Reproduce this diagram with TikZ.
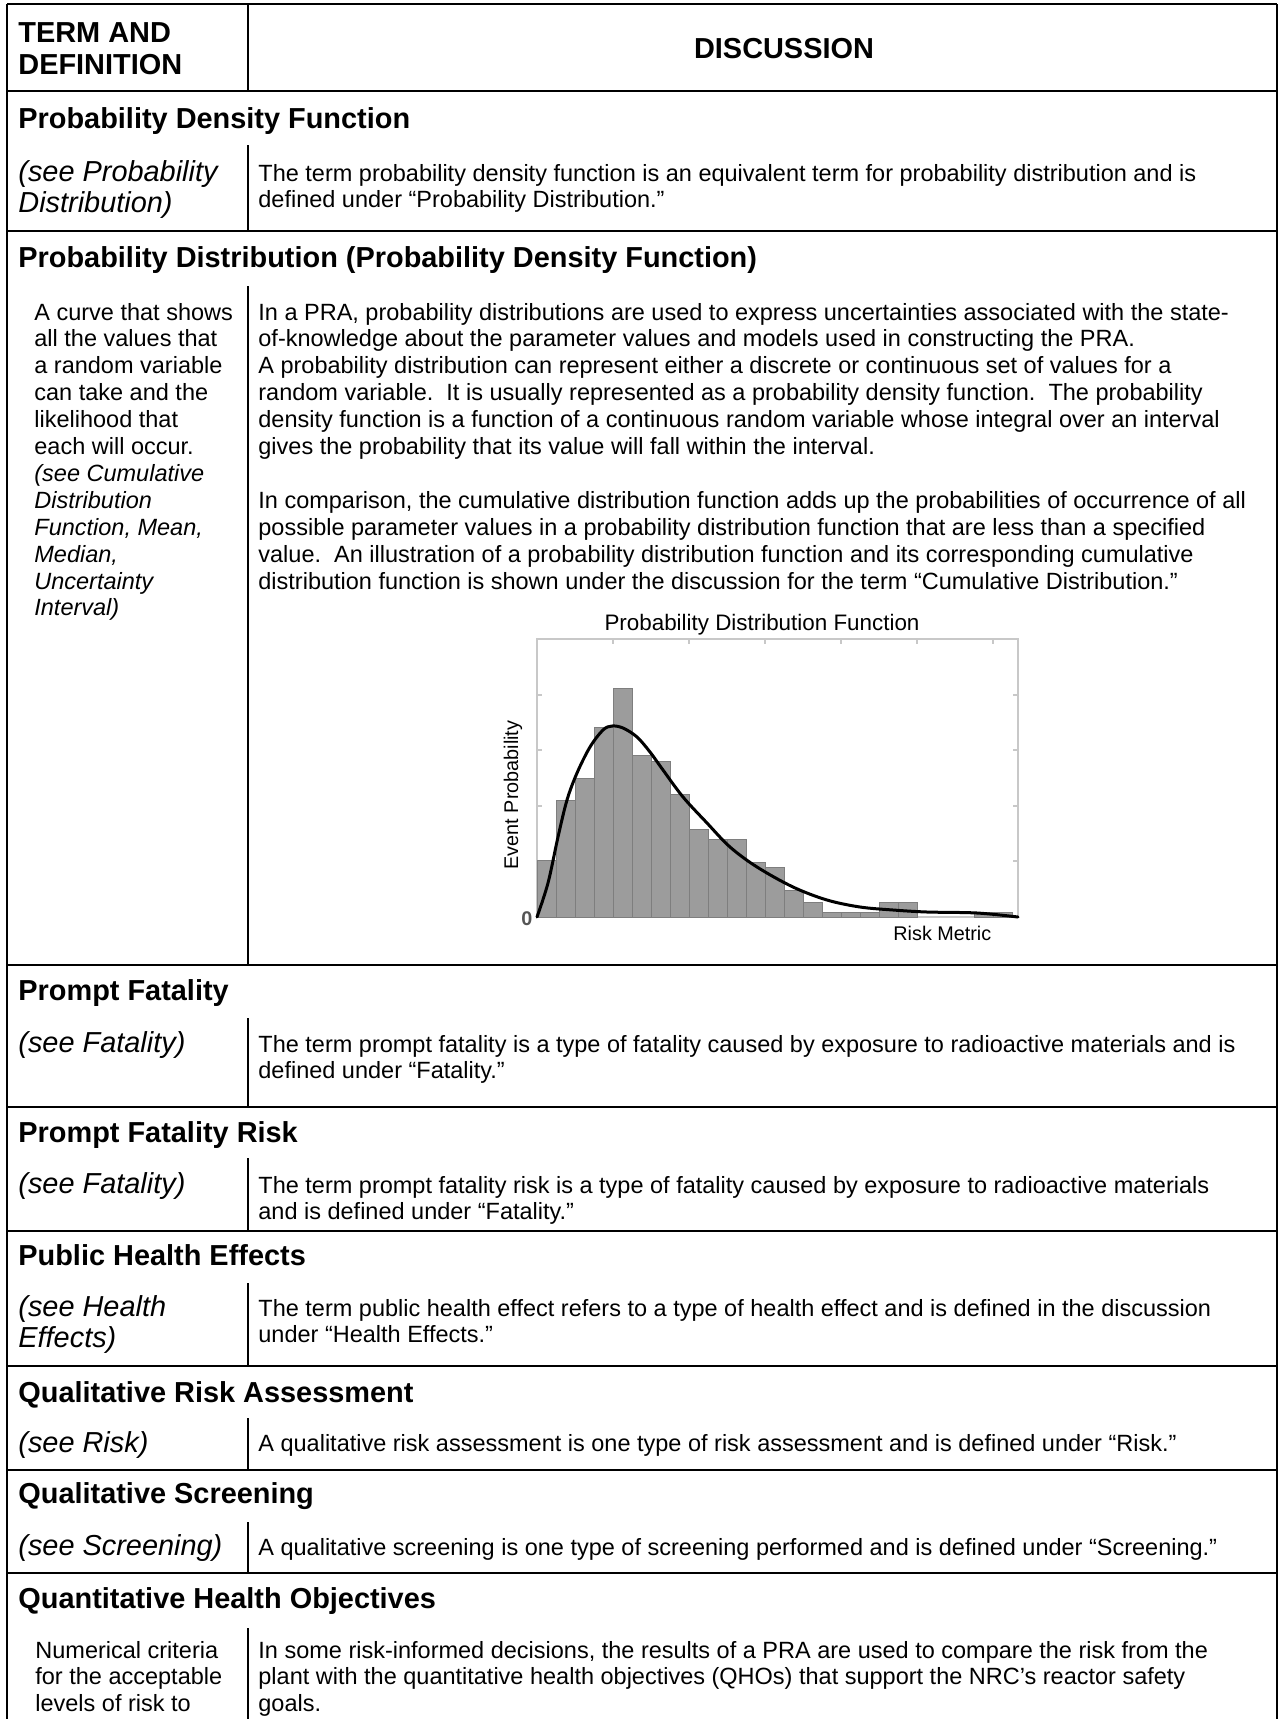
\documentclass[tikz,border=0pt]{standalone}
\usepackage{fontspec}
\setmainfont{Liberation Sans}

% type sizes of the glossary table
\newcommand\bodyfont{\fontsize{11.75pt}{13.45pt}\selectfont}
\newcommand\headfont{\fontsize{14.45pt}{16pt}\selectfont\bfseries}
\newcommand\seefont{\fontsize{14.45pt}{15.6pt}\selectfont\itshape}
\newcommand\charttitlefont{\fontsize{11.2pt}{13pt}\selectfont}
\newcommand\axisfont{\fontsize{9.9pt}{12pt}\selectfont}
% left-aligned lines; the box sits on the baseline of its first line
\newcommand\stack[1]{\vtop{\halign{##\hfil\cr#1\crcr}}}

\definecolor{barfill}{HTML}{9C9C9C}
\definecolor{baredge}{HTML}{7E7E7E}
\definecolor{framegray}{HTML}{C8C8C8}
\definecolor{zerogray}{HTML}{555555}

\tikzset{
  rule/.style={line width=1.3pt, black},
  divider/.style={line width=1.1pt, black},
  heading/.style={anchor=base west, inner sep=0pt, font=\headfont},
  seeref/.style={anchor=base west, inner sep=0pt, font=\seefont},
  body/.style={anchor=base west, inner sep=0pt, font=\bodyfont},
  histbar/.style={fill=barfill, draw=baredge, line width=0.45pt},
  chartframe/.style={draw=framegray, line width=0.6pt},
  density/.style={draw=black, line width=1.5pt, line cap=round, line join=round},
}

\begin{document}
\begin{tikzpicture}[x=0.5pt, y=-0.5pt]
\useasboundingbox (0,0) rectangle (1280,1719);
\fill[white] (0,0) rectangle (1280,1719);

% ---------- table rules ----------
\draw[rule] (7,4) -- (1277,4);
\draw[rule] (7,4) -- (7,1719);
\draw[rule] (1277,4) -- (1277,1719);
\foreach \y in {91,231,965,1107,1231,1366,1470,1573}
  \draw[rule] (7,\y) -- (1277,\y);
\foreach \a/\b in {4/91,145/231,286/965,1018/1107,1158/1231,1283/1366,1418/1470,1522/1573,1628/1719}
  \draw[divider] (248,\a) -- (248,\b);

% ---------- header ----------
\node[heading] (hterm) at (18,42) {\stack{TERM AND\cr DEFINITION}};
\node[anchor=base, inner sep=0pt, font=\headfont] (hdisc) at (784,58) {DISCUSSION};

% ---------- Probability Density Function ----------
\node[heading] (t1) at (18,128) {Probability Density Function};
\node[seeref] (d1) at (18,181) {\stack{(see Probability\cr Distribution)}};
\node[body] (x1) at (258,181) {\stack{The term probability density function is an equivalent term for probability distribution and is\cr
defined under “Probability Distribution.”}};

% ---------- Probability Distribution ----------
\node[heading] (t2) at (18,267) {Probability Distribution (Probability Density Function)};
\node[body] (d2) at (34,320) {\stack{A curve that shows\cr
all the values that\cr
a random variable\cr
can take and the\cr
likelihood that\cr
each will occur.\cr
\itshape (see Cumulative\cr
\itshape Distribution\cr
\itshape Function, Mean,\cr
\itshape Median,\cr
\itshape Uncertainty\cr
\itshape Interval)}};
\node[body] (x2) at (258,320) {\stack{In a PRA, probability distributions are used to express uncertainties associated with the state-\cr
of-knowledge about the parameter values and models used in constructing the PRA.\cr
A probability distribution can represent either a discrete or continuous set of values for a\cr
random variable.\ \ It is usually represented as a probability density function.\ \ The probability\cr
density function is a function of a continuous random variable whose integral over an interval\cr
gives the probability that its value will fall within the interval.\cr
\cr
In comparison, the cumulative distribution function adds up the probabilities of occurrence of all\cr
possible parameter values in a probability distribution function that are less than a specified\cr
value.\ \ An illustration of a probability distribution function and its corresponding cumulative\cr
distribution function is shown under the discussion for the term “Cumulative Distribution.”}};

% ---------- histogram with density curve ----------
\node[anchor=base, inner sep=0pt, font=\charttitlefont] (ctitle) at (762,630) {Probability Distribution Function};
\draw[chartframe] (537,639) rectangle (1018,917);
\foreach \x in {613,689,765,841,917,993}
  \draw[chartframe] (\x,639) -- (\x,644);
\foreach \y in {695,750,806,861} {
  \draw[chartframe] (537,\y) -- (542,\y);
  \draw[chartframe] (1018,\y) -- (1013,\y);
}
\foreach \i/\t in {1/860,2/800,3/778,4/727,5/688,6/755,7/761,8/794,9/829,10/839,
                   11/839,12/862,13/867,14/890,15/902,16/912,17/912,18/912,19/902,20/902,
                   24/912,25/912}
  \draw[histbar] ({537+19*(\i-1)},917) rectangle ({537+19*\i},\t);
\draw[density] plot[smooth, tension=0.55] coordinates {
  (537,917) (548,883) (558,837) (567,800) (577,773) (590,747) (603,730) (612,726)
  (623,728) (637,737) (650,752) (663,770) (683,797) (707,823) (730,847) (757,867)
  (793,887) (827,900) (860,907) (893,910) (927,912) (977,913) (1018,917)};
\node[anchor=base, inner sep=0pt, font=\axisfont\bfseries, text=zerogray] (czero) at (527,925) {0};
\node[rotate=90, inner sep=0pt, font=\axisfont] (cylab) at (513,795) {Event Probability};
\node[anchor=base west, inner sep=0pt, font=\axisfont] (cxlab) at (893,940) {Risk Metric};

% ---------- Prompt Fatality ----------
\node[heading] (t3) at (18,1000) {Prompt Fatality};
\node[seeref] (d3) at (18,1052) {(see Fatality)};
\node[body] (x3) at (258,1052) {\stack{The term prompt fatality is a type of fatality caused by exposure to radioactive materials and is\cr
defined under “Fatality.”}};

% ---------- Prompt Fatality Risk ----------
\node[heading] (t4) at (18,1142) {Prompt Fatality Risk};
\node[seeref] (d4) at (18,1193) {(see Fatality)};
\node[body] (x4) at (258,1193) {\stack{The term prompt fatality risk is a type of fatality caused by exposure to radioactive materials\cr
and is defined under “Fatality.”}};

% ---------- Public Health Effects ----------
\node[heading] (t5) at (18,1265) {Public Health Effects};
\node[seeref] (d5) at (18,1316) {\stack{(see Health\cr Effects)}};
\node[body] (x5) at (258,1316) {\stack{The term public health effect refers to a type of health effect and is defined in the discussion\cr
under “Health Effects.”}};

% ---------- Qualitative Risk Assessment ----------
\node[heading] (t6) at (18,1402) {Qualitative Risk Assessment};
\node[seeref] (d6) at (18,1452) {(see Risk)};
\node[body] (x6) at (258,1451) {A qualitative risk assessment is one type of risk assessment and is defined under “Risk.”};

% ---------- Qualitative Screening ----------
\node[heading] (t7) at (18,1503) {Qualitative Screening};
\node[seeref] (d7) at (18,1555) {(see Screening)};
\node[body] (x7) at (258,1555) {A qualitative screening is one type of screening performed and is defined under “Screening.”};

% ---------- Quantitative Health Objectives ----------
\node[heading] (t8) at (18,1608) {Quantitative Health Objectives};
\node[body] (d8) at (35,1658) {\stack{Numerical criteria\cr for the acceptable\cr levels of risk to}};
\node[body] (x8) at (258,1658) {\stack{In some risk-informed decisions, the results of a PRA are used to compare the risk from the\cr
plant with the quantitative health objectives (QHOs) that support the NRC’s reactor safety\cr
goals.}};
\end{tikzpicture}
\end{document}
